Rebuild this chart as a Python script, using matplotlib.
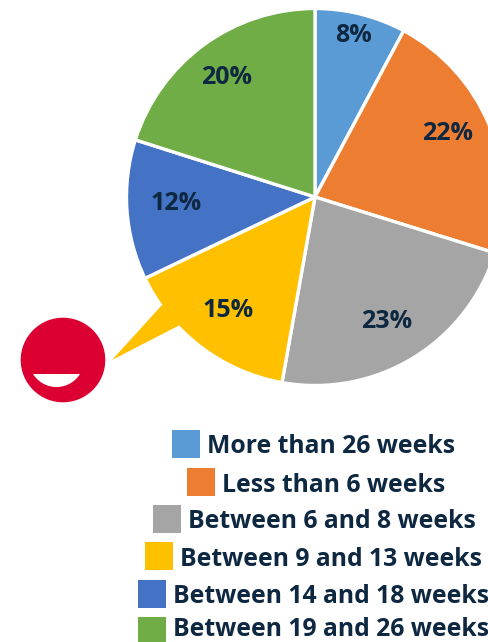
import numpy as np
import matplotlib
matplotlib.use("Agg")
import matplotlib.pyplot as plt
from matplotlib.patches import Circle, Polygon, Rectangle

categories = ["More than 26 weeks", "Less than 6 weeks", "Between 6 and 8 weeks",
              "Between 9 and 13 weeks", "Between 14 and 18 weeks", "Between 19 and 26 weeks"]
values = [7.8, 22, 23, 15.1, 12, 20.1]
colors = ["#5B9BD5", "#ED7D31", "#A5A5A5", "#FFC000", "#4472C4", "#70AD47"]

W, H = 489, 642
TXT = "#0E2841"
FONT = "Open Sans"

fig = plt.figure(figsize=(W / 100, H / 100), dpi=100)
ax = fig.add_axes([0, 0, 1, 1])

def Y(y):
    return H - y

wedges, _ = ax.pie(values, colors=colors, startangle=90, counterclock=False,
                   center=(315, Y(197)), radius=188.5, frame=True,
                   wedgeprops=dict(edgecolor="white", linewidth=2.4))
ax.set_xlim(0, W)
ax.set_ylim(0, H)
ax.set_aspect("equal")
ax.axis("off")

# callout tail of the yellow slice
ax.add_patch(Polygon([(162, Y(305)), (112, Y(360)), (178, Y(326)), (195, Y(315))], closed=True,
                     facecolor=colors[3], edgecolor="none", zorder=3))
# red face
ax.add_patch(Circle((63, Y(360)), 42.3, facecolor="#DC0032", edgecolor="none", zorder=3))
R, cx, cy = 27.7, 56.5, 359.3
a0 = np.arcsin(14.7 / R)
t = np.linspace(a0, np.pi - a0, 50)
ax.add_patch(Polygon(np.c_[cx + R * np.cos(t), Y(cy + R * np.sin(t))], closed=True,
                     facecolor="white", edgecolor="none", zorder=4))

# slice labels
label_pos = [(354, 35), (448, 133), (387, 321), (228, 310), (176, 203), (227, 77)]
for v, (x, y) in zip(values, label_pos):
    ax.text(x, Y(y), f"{v:.0f}%", ha="center", va="center", fontsize=18,
            fontweight="bold", family=FONT, color=TXT, zorder=5)

# centred legend
sw_x = [172, 187, 153, 145, 138, 138]
sw_y = [430, 468, 505, 542, 580, 617]
base_y = [453, 492, 528, 566, 603, 636]
for name, c, x, y, b in zip(categories, colors, sw_x, sw_y, base_y):
    ax.add_patch(Rectangle((x, Y(y + 28)), 28, 28, facecolor=c, edgecolor="none", clip_on=True))
    ax.text(x + 35, Y(b), name, ha="left", va="baseline", fontsize=17.8,
            fontweight="bold", family=FONT, color=TXT)

fig.savefig("out.png", dpi=100)
